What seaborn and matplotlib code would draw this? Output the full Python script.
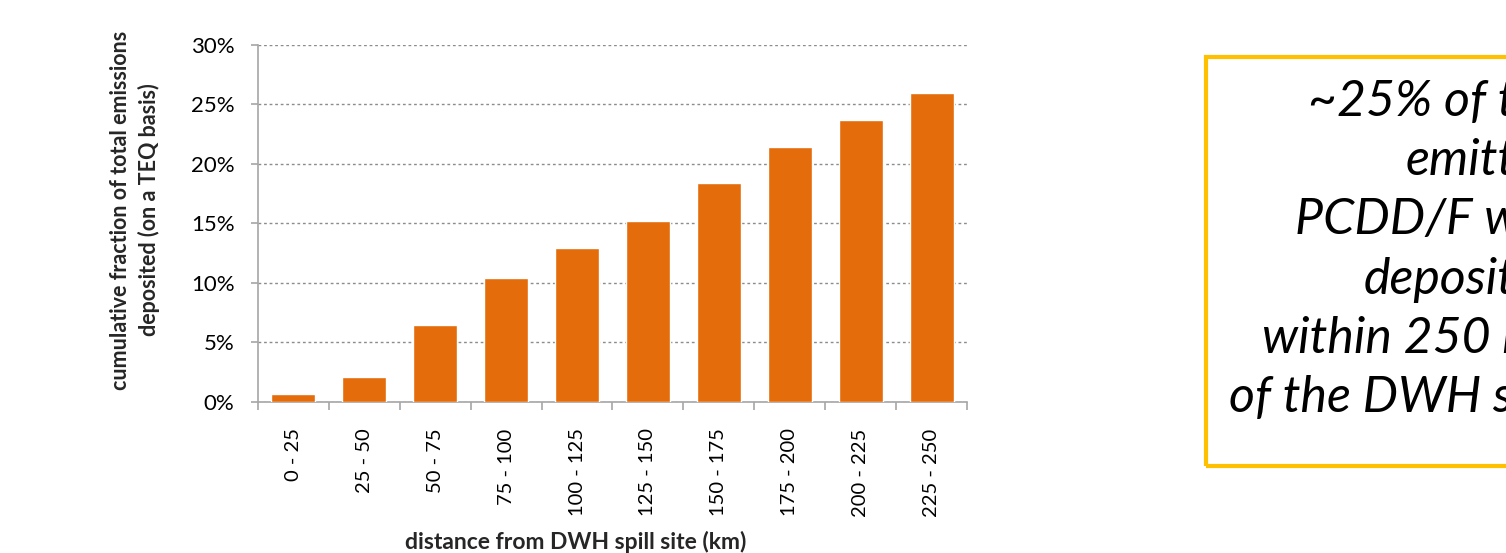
import matplotlib
matplotlib.use("Agg")
import matplotlib.pyplot as plt
from matplotlib.patches import Rectangle
from matplotlib.ticker import PercentFormatter, FixedLocator
import seaborn as sns
import pandas as pd

# Distance bands from the spill site and cumulative fraction deposited (%)
distance_bands = ["0 - 25", "25 - 50", "50 - 75", "75 - 100", "100 - 125",
                  "125 - 150", "150 - 175", "175 - 200", "200 - 225", "225 - 250"]
cumulative_pct = [0.7, 2.1, 6.5, 10.4, 12.9, 15.2, 18.4, 21.4, 23.7, 26.0]
y_ticks = [0, 5, 10, 15, 20, 25, 30]

sns.set_theme(style="white")
plt.rcParams["font.family"] = ["Lato", "DejaVu Sans"]

df = pd.DataFrame({"band": distance_bands, "pct": cumulative_pct})

fig = plt.figure(figsize=(15.06, 5.53), dpi=100)
ax = fig.add_axes([0.1713, 0.2731, 0.4708, 0.6456])

sns.barplot(data=df, x="band", y="pct", color="#E46C0A", saturation=1,
            width=0.62, ax=ax, zorder=3)

ax.set_xlim(-0.5, len(distance_bands) - 0.5)
ax.set_ylim(0, 30)
ax.yaxis.set_major_locator(FixedLocator(y_ticks))
ax.yaxis.set_major_formatter(PercentFormatter(decimals=0))
ax.grid(axis="y", color="#8c8c8c", linestyle=(0, (2, 2)), linewidth=1, zorder=0)

for side in ("top", "right"):
    ax.spines[side].set_visible(False)
for side in ("left", "bottom"):
    ax.spines[side].set_color("#a6a6a6")
    ax.spines[side].set_linewidth(1.2)

# category boundary ticks on x, outward ticks on y
ax.set_xticks([i - 0.5 for i in range(len(distance_bands) + 1)], minor=True)
ax.tick_params(axis="x", which="minor", length=6, width=1.2, color="#a6a6a6",
               direction="out", bottom=True)
ax.tick_params(axis="x", which="major", length=0, pad=19, labelsize=14.5,
               labelrotation=90, labelcolor="black")
ax.tick_params(axis="y", which="major", length=5, width=1.2, color="#a6a6a6",
               direction="out", left=True, labelsize=16, pad=12, labelcolor="black")

ax.set_xlabel("distance from DWH spill site (km)", fontsize=16.5,
              fontweight="bold")
ax.xaxis.set_label_coords(0.448, -0.36)
ax.set_ylabel("cumulative fraction of total emissions\ndeposited (on a TEQ basis)",
              fontsize=15.5, fontweight="bold", labelpad=22, linespacing=1.4)
ax.yaxis.label.set_y(0.538)

# Callout box on the right
box = Rectangle((1206 / 1506, 1 - 466 / 553), 420 / 1506, (466 - 57) / 553,
                transform=fig.transFigure, fill=False, edgecolor="#FFC000",
                linewidth=3, clip_on=False)
fig.patches.append(box)
fig.text(1566 / 1506, 1 - 250 / 553,
         "~25% of the\nemitted\nPCDD/F was\ndeposited\nwithin 250 km\nof the DWH site",
         ha="right", va="center", multialignment="right", fontsize=36,
         style="italic", linespacing=1.36, color="black")

fig.savefig("out.png", dpi=100)
